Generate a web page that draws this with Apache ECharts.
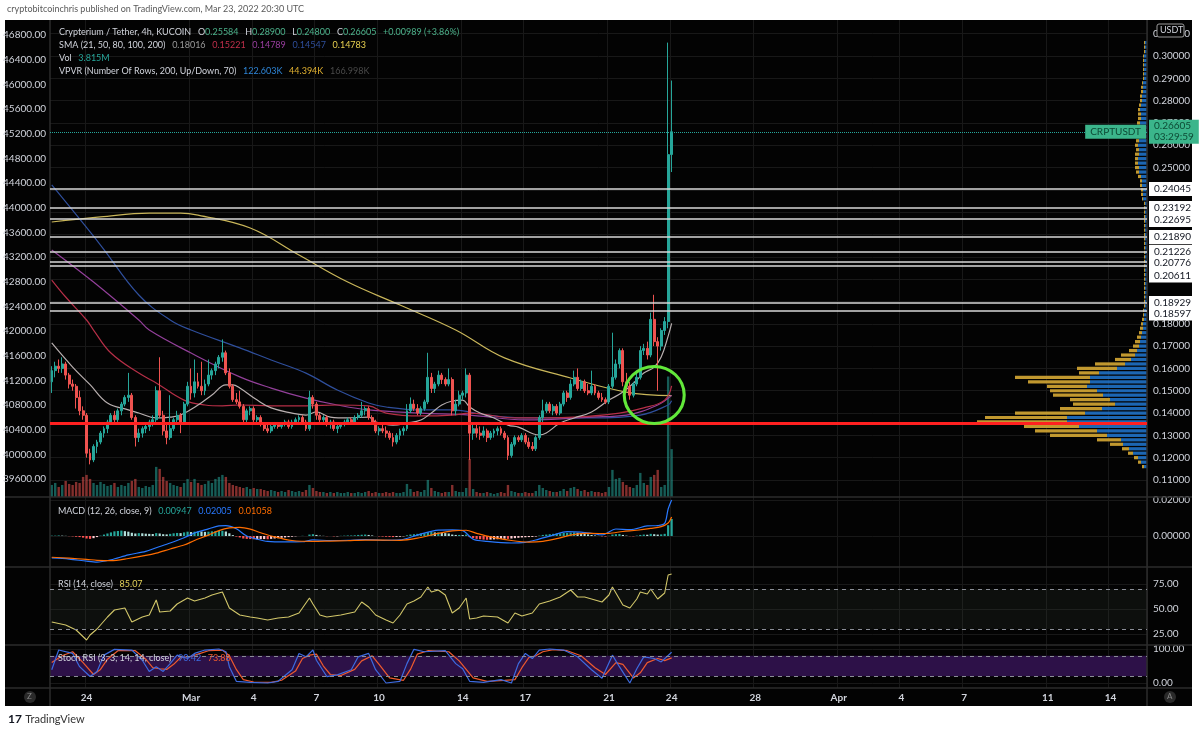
<!DOCTYPE html>
<html>
<head>
<meta charset="utf-8">
<script src="https://cdn.jsdelivr.net/npm/echarts@6/dist/echarts.min.js"></script>
<style>
  html, body { margin: 0; padding: 0; background: #fff; }
  #chart { width: 1200px; height: 733px; }
</style>
</head>
<body>
<div id="chart"></div>
<script>
// CRPT/USDT 4h candles, [open, high, low, close]; index 0 = Feb 22 08:00, index 178 = Mar 24 00:00
const candles = [
  [.154,.161,.149,.159],[.159,.163,.156,.161],[.161,.164,.158,.160],[.160,.165,.158,.162],[.162,.163,.155,.157],
  [.157,.158,.151,.153],[.153,.155,.150,.152],[.152,.153,.142,.147],[.147,.150,.139,.141],[.141,.143,.137,.139],
  [.139,.140,.120,.122],[.122,.124,.117,.119],[.119,.126,.118,.125],[.125,.128,.122,.127],[.127,.132,.126,.131],
  [.131,.134,.129,.133],[.133,.137,.131,.136],[.136,.140,.135,.139],[.139,.141,.136,.137],[.137,.142,.136,.141],
  [.141,.145,.139,.144],[.144,.148,.143,.147],[.147,.158,.145,.148],[.148,.149,.137,.138],[.138,.139,.125,.129],
  [.129,.133,.127,.131],[.131,.134,.129,.133],[.133,.135,.131,.134],[.134,.137,.132,.136],[.136,.139,.134,.137],
  [.137,.152,.136,.150],[.150,.165,.138,.139],[.139,.141,.130,.132],[.132,.135,.126,.129],[.129,.148,.128,.133],
  [.133,.138,.132,.137],[.137,.141,.135,.139],[.139,.140,.131,.136],[.136,.145,.135,.144],[.144,.154,.143,.152],
  [.152,.160,.146,.149],[.149,.164,.147,.154],[.154,.158,.151,.152],[.152,.163,.148,.150],[.150,.155,.148,.153],
  [.153,.164,.152,.157],[.157,.160,.155,.159],[.159,.163,.157,.162],[.162,.166,.160,.165],[.165,.173,.163,.167],
  [.167,.168,.157,.158],[.158,.160,.151,.152],[.152,.153,.145,.146],[.146,.149,.144,.145],[.145,.150,.142,.143],
  [.143,.144,.135,.137],[.137,.142,.135,.141],[.141,.143,.139,.142],[.142,.143,.136,.137],[.137,.139,.135,.138],
  [.138,.139,.134,.135],[.135,.136,.132,.133],[.133,.135,.131,.132],[.132,.135,.131,.134],[.134,.136,.133,.135],
  [.135,.136,.133,.134],[.134,.136,.133,.135],[.135,.137,.134,.136],[.136,.137,.133,.134],[.134,.137,.133,.136],
  [.136,.138,.135,.137],[.137,.139,.136,.138],[.138,.139,.135,.136],[.136,.137,.132,.133],[.133,.150,.132,.147],
  [.147,.148,.142,.144],[.144,.145,.137,.139],[.139,.140,.135,.137],[.137,.139,.135,.138],[.138,.139,.134,.135],
  [.135,.137,.133,.136],[.136,.137,.132,.133],[.133,.135,.131,.134],[.134,.136,.133,.135],[.135,.137,.134,.136],
  [.136,.138,.135,.137],[.137,.138,.135,.136],[.136,.139,.135,.138],[.138,.140,.137,.139],[.139,.145,.138,.141],
  [.141,.143,.139,.142],[.142,.143,.137,.138],[.138,.139,.135,.136],[.136,.137,.131,.132],[.132,.134,.130,.133],
  [.133,.135,.131,.132],[.132,.134,.129,.131],[.131,.132,.128,.129],[.129,.131,.125,.127],[.127,.131,.126,.130],
  [.130,.133,.128,.132],[.132,.134,.130,.133],[.133,.144,.132,.141],[.141,.147,.140,.144],[.144,.146,.141,.142],
  [.142,.144,.139,.140],[.140,.143,.139,.142],[.142,.146,.141,.145],[.145,.167,.144,.156],[.156,.158,.149,.151],
  [.151,.154,.149,.153],[.153,.159,.152,.157],[.157,.158,.153,.155],[.155,.156,.152,.153],[.153,.160,.152,.155],
  [.155,.156,.139,.141],[.141,.146,.139,.144],[.144,.150,.143,.148],[.148,.150,.146,.149],[.149,.160,.147,.157],
  [.157,.158,.119,.131],[.131,.135,.128,.133],[.133,.135,.129,.131],[.131,.134,.128,.130],[.130,.134,.129,.132],
  [.132,.133,.127,.129],[.129,.132,.128,.131],[.131,.133,.129,.132],[.132,.134,.130,.133],[.133,.134,.130,.131],
  [.131,.132,.128,.129],[.129,.130,.119,.121],[.121,.127,.120,.126],[.126,.130,.125,.129],[.129,.130,.127,.128],
  [.128,.131,.127,.130],[.130,.131,.126,.127],[.127,.129,.124,.125],[.125,.127,.123,.124],[.124,.130,.123,.129],
  [.129,.139,.128,.138],[.138,.146,.136,.141],[.141,.145,.140,.144],[.144,.145,.140,.141],[.141,.144,.139,.143],
  [.143,.144,.139,.140],[.140,.145,.139,.144],[.144,.150,.143,.149],[.149,.150,.145,.147],[.147,.155,.146,.153],
  [.153,.159,.152,.156],[.156,.160,.150,.151],[.151,.155,.150,.154],[.154,.155,.149,.150],[.150,.153,.148,.149],
  [.149,.159,.148,.152],[.152,.153,.148,.149],[.149,.150,.146,.147],[.147,.149,.145,.146],[.146,.147,.144,.145],
  [.145,.153,.144,.152],[.152,.176,.151,.156],[.156,.164,.155,.162],[.162,.169,.160,.168],[.168,.169,.152,.154],
  [.154,.158,.150,.152],[.152,.154,.146,.148],[.148,.154,.147,.153],[.153,.158,.152,.156],[.156,.170,.155,.168],
  [.168,.171,.166,.169],[.169,.172,.164,.166],[.166,.185,.165,.182],[.182,.193,.170,.172],[.172,.174,.150,.170],
  [.170,.178,.168,.177],[.177,.183,.175,.181],[.181,.306,.178,.2558],[.25584,.289,.248,.26605]
];

// volume per candle, thousands
const volumes = [
  960,1120,800,960,1280,1040,960,1200,1120,1600,
  1760,1440,1120,960,1200,1040,880,960,1120,800,
  960,880,1120,1280,1440,800,720,880,800,960,
  2400,2240,1600,1280,1120,960,880,800,1120,1440,
  1200,1440,1120,960,1040,1280,1120,1440,1600,1760,
  1600,1120,960,880,800,720,800,640,720,640,
  640,560,480,560,480,400,480,400,560,480,
  400,480,400,560,960,720,480,400,400,320,
  400,320,400,320,320,400,320,320,400,320,
  400,480,320,400,320,320,400,320,400,320,
  320,400,1040,640,400,480,400,560,1360,720,
  480,400,320,400,400,960,480,400,400,720,
  3040,640,400,320,320,400,320,240,320,400,
  320,960,480,400,320,320,400,320,320,480,
  960,720,560,480,400,400,480,640,480,720,
  800,640,480,560,400,480,400,400,320,400,
  800,2160,1440,1520,1200,960,800,720,960,1920,
  1120,960,1600,1760,2160,800,960,9600,3815
];

// moving averages, [candle index, value]
const sma21 = [[0,.1714],[6,.1606],[11,.1527],[16,.1445],[22,.1414],[25,.1400],[30,.1378],[34,.1382],[37,.1391],[42,.1436],[46,.1481],[50,.1526],[52,.1526],[54,.1512],[59,.1458],[63,.1423],[69,.1400],[73,.1391],[76,.1405],[80,.1382],[85,.1378],[91,.1382],[93,.1360],[98,.1346],[102,.1355],[106,.1369],[109,.1400],[112,.1436],[115,.1454],[118,.1458],[120,.1427],[123,.1400],[127,.1378],[131,.1346],[134,.1337],[140,.1302],[142,.1311],[146,.1355],[150,.1378],[155,.1405],[160,.1458],[164,.1494],[168,.1548],[170,.1579],[173,.1606],[175,.1651],[177,.1745],[178,.1802]];
const sma50 = [[0,.1996],[4,.1920],[9.5,.1817],[12,.1772],[17,.1669],[25,.1579],[30,.1535],[38,.1458],[44,.1436],[49,.1432],[54,.1436],[63,.1432],[73,.1432],[82,.1436],[91,.1432],[96,.1400],[106,.1387],[115,.1391],[120,.1400],[133,.1378],[150,.1382],[163,.1400],[170,.1423],[176,.1458],[178,.1522]];
const sma80 = [[0,.2131],[12,.1987],[25,.1817],[28,.1772],[40,.1669],[54,.1562],[63,.1512],[73,.1467],[82,.1436],[91,.1414],[106,.1400],[120,.1391],[136,.1369],[155,.1382],[165,.1391],[174,.1436],[178,.1479]];
const sma100 = [[0,.2422],[14,.2153],[25,.1929],[34,.1817],[40,.1772],[54,.1692],[63,.1638],[73,.1579],[82,.1503],[91,.1445],[96,.1427],[106,.1414],[115,.1414],[125,.1391],[136,.1378],[155,.1378],[169,.1391],[177,.1436],[178,.1455]];
const sma200 = [[0,.2256],[14,.2279],[28,.2296],[37,.2296],[42,.2287],[57,.2229],[71,.2108],[85,.1987],[100,.1884],[116,.1772],[130,.1647],[149,.1557],[165,.1494],[178,.1478]];

// MACD (12, 26, 9)
const macdLine = [[0,-.0122],[5,-.0128],[10,-.0140],[13,-.0145],[17,-.0132],[22,-.0105],[27,-.0085],[30,-.0065],[34,-.0039],[38,-.0010],[41,.0017],[45,.0040],[48,.0056],[50,.0058],[53,.0040],[56,.0000],[59,-.0018],[62,-.0030],[67,-.0033],[72,-.0032],[75,-.0022],[80,-.0025],[85,-.0024],[90,-.0020],[95,-.0024],[100,-.0022],[105,.0005],[111,.0033],[115,.0034],[118,.0030],[121,-.0018],[125,-.0030],[132,-.0039],[136,-.0035],[139,-.0022],[144,.0005],[148,.0024],[152,.0022],[155,.0015],[158,.0006],[162,.0039],[166,.0035],[171,.0056],[174,.0058],[176,.0070],[177,.0150],[178,.02005]];
const signalLine = [[0,-.0118],[5,-.0123],[10,-.0130],[13,-.0135],[17,-.0137],[22,-.0125],[27,-.0108],[30,-.0095],[34,-.0072],[38,-.0050],[41,-.0025],[45,.0005],[48,.0030],[51,.0045],[54,.0048],[57,.0038],[60,.0018],[64,-.0005],[69,-.0025],[75,-.0030],[80,-.0028],[85,-.0026],[90,-.0023],[95,-.0023],[100,-.0024],[105,-.0012],[111,.0015],[115,.0028],[119,.0032],[122,.0015],[126,-.0005],[132,-.0025],[137,-.0034],[141,-.0030],[145,-.0015],[149,.0005],[153,.0015],[157,.0014],[160,.0015],[164,.0025],[168,.0032],[172,.0042],[175,.0052],[177,.0072],[178,.01058]];
const macdHist = [
  .0002,.0002,.0003,.0002,.0001,-.0001,-.0002,-.0004,
  -.0006,-.0009,-.0014,-.0016,-.0012,
  -.0006,.0002,.0008,.0014,.0020,.0026,.0028,.0030,.0027,.0024,
  .0018,.0014,.0016,.0015,.0013,.0012,.0011,.0016,
  .0014,.0010,.0009,.0012,.0015,.0017,.0016,.0020,.0024,.0022,
  .0024,.0026,.0025,.0023,.0024,.0026,.0027,.0028,.0029,.0025,
  .0015,.0005,-.0003,-.0008,-.0014,-.0016,-.0017,-.0018,-.0018,-.0017,
  -.0017,-.0018,-.0016,-.0014,-.0012,-.0010,-.0008,-.0006,-.0004,-.0002,
  .0000,.0001,.0000,.0008,.0010,.0006,.0002,.0001,-.0001,.0000,
  -.0002,-.0002,.0001,.0002,.0003,.0003,.0004,.0006,.0007,.0008,
  .0006,.0003,.0000,-.0002,-.0003,-.0004,-.0005,-.0006,-.0005,-.0004,
  -.0002,.0004,.0008,.0010,.0012,.0014,.0016,.0022,.0022,.0020,
  .0020,.0018,.0016,.0014,.0008,.0006,.0006,.0005,.0008,-.0006,
  -.0012,-.0016,-.0018,-.0020,-.0021,-.0020,-.0019,-.0018,-.0016,-.0015,
  -.0016,-.0014,-.0012,-.0010,-.0008,-.0007,-.0006,-.0005,-.0003,.0002,
  .0006,.0008,.0010,.0012,.0014,.0015,.0017,.0018,.0019,.0020,
  .0018,.0015,.0012,.0009,.0006,.0003,.0001,-.0002,-.0003,.0001,
  .0008,.0010,.0011,.0006,.0002,-.0001,-.0002,.0002,.0006,.0008,
  .0007,.0012,.0010,.0008,.0009,.0012,.0060,.00947
];

// RSI (14) and Stoch RSI K / D
const rsi = [[0,37],[4,34],[7,29],[10,19],[11,24],[13,30],[16,42],[18,49],[21,51],[23,37],[26,42],[28,44],[30,59],[31,47],[34,48],[36,55],[39,61],[41,58],[44,61],[46,64],[49,67],[51,51],[54,44],[57,42],[59,41],[62,39],[65,41],[68,42],[71,46],[74,61],[75,55],[77,44],[79,42],[83,44],[87,47],[89,57],[91,52],[93,44],[96,39],[98,36],[100,44],[102,55],[104,58],[106,62],[108,72],[109,67],[111,69],[113,64],[115,46],[117,51],[119,61],[120,40],[122,41],[124,43],[128,42],[131,36],[133,46],[135,43],[138,46],[140,55],[143,58],[146,62],[149,69],[151,62],[153,62],[156,59],[158,57],[160,64],[161,72],[164,54],[166,51],[168,60],[169,67],[171,65],[172,70],[174,60],[176,66],[177,84],[178,85.07]];
const stochK = [[0,39],[2,97],[6,87],[8,48],[11,19],[13,34],[15,82],[18,99],[23,97],[26,67],[28,34],[30,48],[32,34],[34,57],[36,82],[39,72],[41,87],[44,97],[48,100],[50,92],[51,48],[53,5],[57,2],[62,0],[65,5],[69,39],[71,87],[73,77],[75,97],[76,67],[79,19],[82,24],[86,39],[88,77],[91,87],[93,39],[96,0],[100,5],[102,57],[104,99],[107,92],[113,95],[116,57],[118,42],[120,5],[124,2],[129,10],[132,0],[134,57],[136,87],[138,72],[140,97],[143,100],[147,97],[151,77],[155,39],[158,14],[161,82],[163,48],[166,0],[168,42],[170,77],[173,72],[175,62],[178,90.42]];
const stochD = [[0,60],[3,80],[6,92],[9,60],[12,25],[14,40],[16,70],[19,95],[24,95],[27,70],[29,45],[31,42],[33,40],[35,55],[37,75],[40,78],[42,85],[45,95],[49,97],[51,80],[53,40],[55,10],[58,3],[63,2],[66,8],[70,35],[72,72],[74,82],[76,85],[78,50],[80,25],[83,22],[87,40],[89,65],[92,80],[94,55],[97,15],[101,8],[103,40],[105,85],[108,95],[114,92],[117,65],[119,40],[121,15],[125,5],[130,8],[133,10],[135,45],[137,75],[139,80],[141,92],[144,98],[148,95],[152,80],[156,45],[159,25],[162,60],[164,55],[167,15],[169,30],[171,60],[174,72],[176,66],[178,73.88]];

// visible-range volume profile rows
const vpPrice = [.116,.118,.120,.122,.124,.126,.128,.130,.132,.134,.136,.138,.140,.142,.144,.146,.148,.150,.152,.154,.156,.158,.160,.162,.164,.166,.168,.170,.172,.174,.176,.178,.180,.182,.184,.186,.188,.190,.192,.194,.196,.198,.200,.202,.204,.206,.208,.210,.212,.214,.216,.218,.220,.222,.224,.226,.228,.230,.232,.234,.236,.238,.240,.242,.244,.246,.248,.250,.252,.254,.256,.258,.260,.262,.264,.266,.268,.270,.272,.274,.276,.278,.280,.282,.284,.286,.288,.290,.292,.294,.296,.298,.300,.302,.304,.306];
const vpUp = [3,6,9,14,18,24,26,40,50,68,80,80,62,45,32,37,44,50,60,57,57,48,30,22,16,12,10,8,7,6,5,4,4,3,3,3,2,2,2,2,2,2,2,2,2,2,2,2,2,2,2,2,2,2,2,2,2,2,2,2,4,4,4,5,5,6,8,8,9,9,8,8,9,8,8,8,7,7,6,6,7,6,5,5,4,4,4,3,3,3,3,3,3,2,2,2];
const vpDown = [2,3,4,5,7,13,24,57,62,55,90,82,70,42,42,40,50,47,40,62,75,20,40,30,16,14,8,6,5,4,3,3,2,2,1,1,1,1,1,1,1,1,1,1,1,1,1,1,1,1,1,1,1,1,1,1,1,1,1,1,1,2,2,2,2,3,3,4,3,3,4,3,3,3,3,3,3,3,3,3,2,2,2,2,2,2,1,1,1,1,1,1,1,1,1,1];

// drawn levels and annotations
const levels = [0.24045, 0.23192, 0.22695, 0.21890, 0.21226, 0.20776, 0.20611, 0.18929, 0.18597];
const levelTagShift = [0, 0, 1, 0, 0, 1, 10, 0, 3];   // axis tags pushed apart, as the platform stacks them
const redLevel = 0.1356;
const lastPrice = 0.26605;
const circleAt = [173, 0.1481];

// axes
const priceTicks = [0.11,0.12,0.13,0.14,0.15,0.16,0.17,0.18,0.19,0.20,0.21,0.22,0.23,0.24,0.25,0.26,0.27,0.28,0.29,0.30,0.31];
const btcTicks = [39600,40000,40400,40800,41200,41600,42000,42400,42800,43200,43600,44000,44400,44800,45200,45600,46000,46400,46800];
const dayIdx = [10,40,58,76,94,118,136,160,178,202,226,244,262,286,304];
const dayText = ['24','Mar','4','7','10','14','17','21','24','28','Apr','4','7','11','14'];
const slotCount = 315;

const cats = Array.from({ length: slotCount }, (_, i) => 'b' + i);
const isDay = (i) => dayIdx.indexOf(i) >= 0;

const UP = '#26a69a', DOWN = '#ef5350';
const FONT = 'Lato, "Open Sans", sans-serif';
const gridLine = '#181818';
const textCol = '#d1d4dc';
const greenTag = '#3bb58b';

const chart = echarts.init(document.getElementById('chart'));

function catAxis(grid, showLabels) {
  return {
    type: 'category', gridIndex: grid, data: cats, boundaryGap: true,
    axisLine: { show: false }, axisTick: { show: false },
    axisLabel: {
      show: showLabels, interval: (i) => isDay(i), margin: 5,
      formatter: (v, i) => dayText[dayIdx.indexOf(i)] || '',
      color: textCol, fontSize: 10, fontWeight: 'bold', fontFamily: FONT
    },
    splitLine: { show: true, interval: (i) => isDay(i), lineStyle: { color: gridLine, width: 1 } }
  };
}

function valAxis(grid, min, max, ticks, fmt, opts) {
  return Object.assign({
    type: 'value', gridIndex: grid, position: 'right', min: min, max: max, scale: true,
    axisLine: { show: false },
    axisTick: { show: false, customValues: ticks },
    axisLabel: { customValues: ticks, formatter: fmt, color: textCol, fontSize: 10, margin: 6, fontFamily: FONT },
    splitLine: { show: true, lineStyle: { color: gridLine } }
  }, opts || {});
}

const pMin = 0.10238, pMax = 0.31613;

function vpRender(params, api) {
  const p = api.value(0), up = api.value(1), dn = api.value(2);
  const a = api.coord([0, p]);
  const b = api.coord([up, p]);
  const c = api.coord([up + dn, p]);
  const h = Math.abs(api.size([0, 0.002])[1]) * 0.72;
  return {
    type: 'group',
    children: [
      { type: 'rect', shape: { x: b[0], y: a[1] - h / 2, width: a[0] - b[0], height: h }, style: { fill: 'rgba(33,120,210,0.85)' } },
      { type: 'rect', shape: { x: c[0], y: a[1] - h / 2, width: b[0] - c[0], height: h }, style: { fill: 'rgba(214,168,52,0.9)' } }
    ]
  };
}

const histColor = (p) => {
  const i = p.dataIndex, v = macdHist[i], prev = i > 0 ? macdHist[i - 1] : v;
  if (v >= 0) return v >= prev ? '#26a69a' : '#b2dfdb';
  return v < prev ? '#ff5252' : '#ffcdd2';
};

const small = (fill) => ({ fill: fill, fontSize: 9, fontFamily: FONT });

const option = {
  animation: false,
  backgroundColor: '#ffffff',
  textStyle: { fontFamily: FONT },
  grid: [
    { left: 50, right: 53, top: 20, height: 477, outerBoundsMode: 'none' },   // price pane
    { left: 747, right: 53, top: 20, height: 477, outerBoundsMode: 'none' },  // VPVR overlay
    { left: 50, right: 53, top: 497, height: 70, outerBoundsMode: 'none' },   // MACD
    { left: 50, right: 53, top: 567, height: 78, outerBoundsMode: 'none' },   // RSI
    { left: 50, right: 53, top: 645, height: 43, outerBoundsMode: 'none' }    // Stoch RSI
  ],
  xAxis: [
    catAxis(0, false),
    { type: 'value', gridIndex: 1, min: 0, max: 400, inverse: true, show: false },
    catAxis(2, false),
    catAxis(3, false),
    catAxis(4, true)
  ],
  yAxis: [
    valAxis(0, pMin, pMax, priceTicks, (v) => v.toFixed(5)),
    valAxis(0, 39308, 47043, btcTicks, (v) => v.toFixed(2), {
      position: 'left', splitLine: { show: false },
      axisLabel: { customValues: btcTicks, formatter: (v) => v.toFixed(2), color: textCol, fontSize: 10, margin: 4, fontFamily: FONT }
    }),
    { type: 'value', gridIndex: 0, min: 0, max: 38000, show: false },
    { type: 'value', gridIndex: 1, min: pMin, max: pMax, show: false },
    valAxis(2, -0.01722, 0.02167, [0, 0.02], (v) => v.toFixed(5)),
    valAxis(3, 14, 92, [25, 50, 75], (v) => v.toFixed(2)),
    valAxis(4, -14.7, 111.8, [0, 100], (v) => v.toFixed(2))
  ],
  series: [
    {
      type: 'bar', name: 'Vol', xAxisIndex: 0, yAxisIndex: 2, barWidth: 2.4, z: 1,
      data: volumes.map((v, i) => ({
        value: v,
        itemStyle: { color: candles[i][3] >= candles[i][0] ? 'rgba(38,166,154,0.55)' : 'rgba(239,83,80,0.55)' }
      }))
    },
    {
      type: 'custom', name: 'VPVR', xAxisIndex: 1, yAxisIndex: 3, z: 1,
      renderItem: vpRender,
      data: vpPrice.map((p, i) => [p, vpUp[i], vpDown[i]])
    },
    { type: 'line', name: 'SMA200', xAxisIndex: 0, yAxisIndex: 0, data: sma200, smooth: 0.4, symbol: 'none', lineStyle: { color: '#c9b65a', width: 1.2 }, z: 2 },
    { type: 'line', name: 'SMA100', xAxisIndex: 0, yAxisIndex: 0, data: sma100, smooth: 0.4, symbol: 'none', lineStyle: { color: '#2f4f9c', width: 1.2 }, z: 2 },
    { type: 'line', name: 'SMA80', xAxisIndex: 0, yAxisIndex: 0, data: sma80, smooth: 0.4, symbol: 'none', lineStyle: { color: '#93409a', width: 1.2 }, z: 2 },
    { type: 'line', name: 'SMA50', xAxisIndex: 0, yAxisIndex: 0, data: sma50, smooth: 0.4, symbol: 'none', lineStyle: { color: '#b52f47', width: 1.2 }, z: 2 },
    { type: 'line', name: 'SMA21', xAxisIndex: 0, yAxisIndex: 0, data: sma21, smooth: 0.4, symbol: 'none', lineStyle: { color: '#b9b0b0', width: 1.2 }, z: 2 },
    {
      type: 'candlestick', name: 'CRPTUSDT', xAxisIndex: 0, yAxisIndex: 0, barWidth: 2.4, z: 3,
      data: candles.map((c) => [c[0], c[3], c[2], c[1]]),
      itemStyle: { color: UP, color0: DOWN, borderColor: UP, borderColor0: DOWN, borderWidth: 1 },
      markLine: {
        silent: true, symbol: ['none', 'none'], animation: false, precision: 5,
        data: levels.map((v, k) => ({
          yAxis: v,
          lineStyle: { color: '#d8d8d8', width: 1.5, type: 'solid' },
          label: { show: true, position: 'end', distance: 2, offset: [0, levelTagShift[k]], formatter: v.toFixed(5), backgroundColor: '#ffffff', color: '#131722', fontSize: 10, padding: [2, 5], fontFamily: FONT }
        })).concat([
          { yAxis: redLevel, lineStyle: { color: '#ff2020', width: 3, type: 'solid' }, label: { show: false } },
          {
            yAxis: lastPrice, lineStyle: { color: '#26a69a', width: 1, type: 'dotted' },
            label: { show: true, position: 'end', distance: 2, formatter: lastPrice.toFixed(5) + '\n03:29:59', backgroundColor: greenTag, color: '#0d4a35', fontSize: 10, lineHeight: 11, padding: [1, 5], fontFamily: FONT }
          },
          {
            yAxis: lastPrice, lineStyle: { color: 'rgba(0,0,0,0)', width: 0 },
            label: { show: true, position: 'insideEnd', distance: 1, formatter: 'CRPTUSDT', backgroundColor: greenTag, color: '#0d4a35', fontSize: 10, padding: [2, 5], fontFamily: FONT }
          }
        ])
      },
      markPoint: {
        silent: true, animation: false,
        data: [{
          coord: circleAt, symbol: 'circle', symbolSize: [60, 57],
          itemStyle: { color: 'rgba(0,0,0,0)', borderColor: '#62e83a', borderWidth: 3 },
          label: { show: false }
        }]
      }
    },
    {
      type: 'bar', name: 'Histogram', xAxisIndex: 2, yAxisIndex: 4, barWidth: 2.2,
      data: macdHist.map((v) => v), itemStyle: { color: histColor }
    },
    { type: 'line', name: 'MACD', xAxisIndex: 2, yAxisIndex: 4, data: macdLine, smooth: 0.3, symbol: 'none', lineStyle: { color: '#2979ff', width: 1.2 } },
    { type: 'line', name: 'Signal', xAxisIndex: 2, yAxisIndex: 4, data: signalLine, smooth: 0.3, symbol: 'none', lineStyle: { color: '#ff6d00', width: 1.2 } },
    {
      type: 'line', name: 'RSI', xAxisIndex: 3, yAxisIndex: 5, data: rsi, symbol: 'none', lineStyle: { color: '#d2c76a', width: 1.1 },
      markArea: { silent: true, itemStyle: { color: 'rgba(60,70,60,0.18)' }, data: [[{ yAxis: 30 }, { yAxis: 70 }]] },
      markLine: { silent: true, symbol: ['none', 'none'], label: { show: false }, lineStyle: { color: '#8a8d96', type: [4, 4], width: 1 }, data: [{ yAxis: 70 }, { yAxis: 30 }] }
    },
    {
      type: 'line', name: 'Stoch D', xAxisIndex: 4, yAxisIndex: 6, data: stochD, symbol: 'none', lineStyle: { color: '#ee5a2e', width: 1.2 },
      markArea: { silent: true, itemStyle: { color: '#2d1148' }, data: [[{ yAxis: 20 }, { yAxis: 80 }]] },
      markLine: { silent: true, symbol: ['none', 'none'], label: { show: false }, lineStyle: { color: '#8a8d96', type: [4, 4], width: 1 }, data: [{ yAxis: 80 }, { yAxis: 20 }] }
    },
    { type: 'line', name: 'Stoch K', xAxisIndex: 4, yAxisIndex: 6, data: stochK, symbol: 'none', lineStyle: { color: '#3d6be0', width: 1.2 } }
  ],
  graphic: [
    { type: 'rect', z: -10, shape: { x: 5, y: 20, width: 1187, height: 686 }, style: { fill: '#030303' } },
    { type: 'text', left: 7, top: 5, style: { text: 'cryptobitcoinchris published on TradingView.com, Mar 23, 2022 20:30 UTC', fill: '#5a5a5a', font: '9px Lato' } },
    // pane borders
    { type: 'line', z: 5, shape: { x1: 5, y1: 497, x2: 1192, y2: 497 }, style: { stroke: '#2c2c2c', lineWidth: 1.5 } },
    { type: 'line', z: 5, shape: { x1: 5, y1: 567, x2: 1192, y2: 567 }, style: { stroke: '#2c2c2c', lineWidth: 1.5 } },
    { type: 'line', z: 5, shape: { x1: 5, y1: 645, x2: 1192, y2: 645 }, style: { stroke: '#2c2c2c', lineWidth: 1.5 } },
    { type: 'line', z: 5, shape: { x1: 5, y1: 688, x2: 1192, y2: 688 }, style: { stroke: '#2c2c2c', lineWidth: 1.5 } },
    { type: 'line', z: 5, shape: { x1: 50, y1: 20, x2: 50, y2: 706 }, style: { stroke: '#2c2c2c', lineWidth: 1.5 } },
    { type: 'line', z: 5, shape: { x1: 1147, y1: 20, x2: 1147, y2: 706 }, style: { stroke: '#2c2c2c', lineWidth: 1.5 } },
    // legends
    {
      type: 'text', left: 59, top: 26, z: 10,
      style: {
        text: '{w|Crypterium / Tether, 4h, KUCOIN}  {w|O}{g|0.25584}  {w|H}{g|0.28900}  {w|L}{g|0.24800}  {w|C}{g|0.26605}  {g|+0.00989 (+3.86%)}',
        rich: { w: small(textCol), g: small('#4db38c') }
      }
    },
    {
      type: 'text', left: 59, top: 39, z: 10,
      style: {
        text: '{w|SMA (21, 50, 80, 100, 200)}  {a|0.18016}  {b|0.15221}  {c|0.14789}  {d|0.14547}  {e|0.14783}',
        rich: { w: small(textCol), a: small('#9a9a9a'), b: small('#c2304c'), c: small('#9a3fa0'), d: small('#2f4f9c'), e: small('#e8d050') }
      }
    },
    {
      type: 'text', left: 59, top: 52, z: 10,
      style: { text: '{w|Vol}  {g|3.815M}', rich: { w: small(textCol), g: small('#26a69a') } }
    },
    {
      type: 'text', left: 59, top: 65, z: 10,
      style: {
        text: '{w|VPVR (Number Of Rows, 200, Up/Down, 70)}  {a|122.603K}  {b|44.394K}  {c|166.998K}',
        rich: { w: small(textCol), a: small('#2f86d8'), b: small('#e0b030'), c: small('#4a4a4a') }
      }
    },
    {
      type: 'text', left: 58, top: 505, z: 10,
      style: { text: '{w|MACD (12, 26, close, 9)}  {a|0.00947}  {b|0.02005}  {c|0.01058}', rich: { w: small(textCol), a: small('#26a69a'), b: small('#2979ff'), c: small('#ff6d00') } }
    },
    {
      type: 'text', left: 58, top: 578, z: 10,
      style: { text: '{w|RSI (14, close)}  {a|85.07}', rich: { w: small(textCol), a: small('#e3d25a') } }
    },
    {
      type: 'text', left: 58, top: 652, z: 10,
      style: { text: '{w|Stoch RSI (3, 3, 14, 14, close)}  {a|90.42}  {b|73.88}', rich: { w: small(textCol), a: small('#3d6be0'), b: small('#ee5a2e') } }
    },
    // USDT box, scale buttons, footer
    { type: 'rect', z: 10, shape: { x: 1157, y: 24, width: 27, height: 13, r: 2 }, style: { fill: '#030303', stroke: '#9a9a9a', lineWidth: 1 } },
    { type: 'text', z: 11, left: 1160, top: 26, style: { text: 'USDT', fill: textCol, font: '9px Lato' } },
    { type: 'circle', z: 10, shape: { cx: 30, cy: 697, r: 6 }, style: { fill: '#2a2a2a' } },
    { type: 'text', z: 11, left: 27, top: 692, style: { text: 'Z', fill: '#888', font: '8px Lato' } },
    { type: 'circle', z: 10, shape: { cx: 1170, cy: 697, r: 6 }, style: { fill: '#2a2a2a' } },
    { type: 'text', z: 11, left: 1167, top: 692, style: { text: 'A', fill: '#888', font: '8px Lato' } },
    { type: 'text', left: 8, top: 713, style: { text: '{l|17} {t|TradingView}', rich: { l: { fill: '#131722', fontSize: 12, fontWeight: 'bold', fontFamily: FONT }, t: { fill: '#333', fontSize: 11, fontFamily: FONT } } } }
  ]
};

chart.setOption(option);
</script>
</body>
</html>
